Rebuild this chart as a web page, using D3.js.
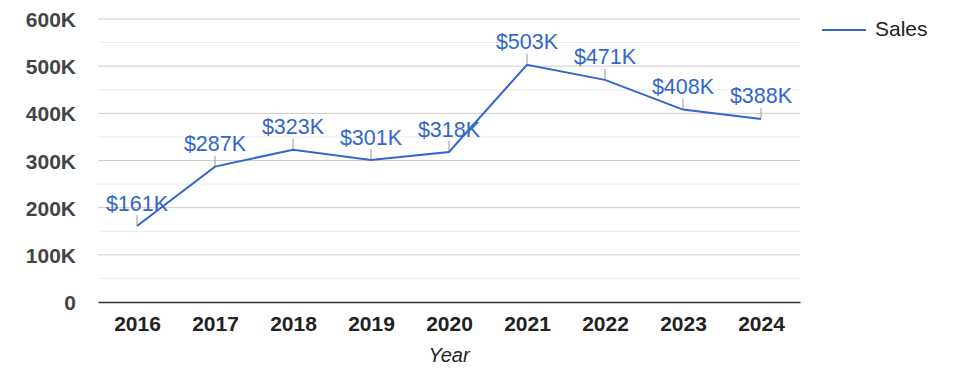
<!DOCTYPE html>
<html><head><meta charset="utf-8">
<script src="https://cdn.jsdelivr.net/npm/d3@7"></script>
<style>body{margin:0;background:#fff}svg{display:block;font-family:Arial,"Liberation Sans",sans-serif}</style>
</head><body><svg id="c" width="975" height="378"></svg>
<script>
const years = ["2016","2017","2018","2019","2020","2021","2022","2023","2024"];
const sales = [161000,287000,323000,301000,318000,503000,471000,408000,388000];
const yTicks = [0,100000,200000,300000,400000,500000,600000];
const yMinor = [50000,150000,250000,350000,450000,550000];
const seriesName = "Sales";
const xTitle = "Year";

const svg = d3.select("#c");
const L = 98, R = 800, T = 19, B = 302;
const x = d3.scalePoint().domain(years).range([L, R]).padding(0.5);
const y = d3.scaleLinear().domain([0, 600000]).range([B, T]);
const blue = "#3366cc";
const FF = "Arial,'Liberation Sans',sans-serif";
const fmtY = v => v === 0 ? "0" : (v/1000) + "K";

svg.append("g").selectAll("line").data(yMinor).join("line")
  .attr("x1", L).attr("x2", R).attr("y1", d => y(d)).attr("y2", d => y(d))
  .attr("stroke", "#ebebeb").attr("stroke-width", 1);
svg.append("g").selectAll("line").data(yTicks.filter(d => d > 0)).join("line")
  .attr("x1", L).attr("x2", R).attr("y1", d => y(d)).attr("y2", d => y(d))
  .attr("stroke", "#cccccc").attr("stroke-width", 1);

const yAxis = svg.append("g").attr("transform", `translate(${L},0)`)
  .call(d3.axisLeft(y).tickValues(yTicks).tickFormat(fmtY).tickSize(0).tickPadding(22));
yAxis.select(".domain").remove();
yAxis.selectAll("text").attr("font-size", 21).attr("font-weight", "bold").attr("fill", "#444").attr("font-family", FF).attr("dy", "0.36em");

const xAxis = svg.append("g").attr("transform", `translate(0,${B})`)
  .call(d3.axisBottom(x).tickSize(0).tickPadding(0));
xAxis.select(".domain").attr("stroke", "#333").attr("stroke-width", 1.5);
xAxis.selectAll("text").attr("font-size", 21).attr("font-weight", "bold").attr("fill", "#222").attr("font-family", FF)
  .attr("y", 29).attr("dy", 0);

svg.append("text").attr("x", (L+R)/2).attr("y", 362).attr("text-anchor", "middle")
  .attr("font-size", 20).attr("font-style", "italic").attr("fill", "#222").text(xTitle);

const data = years.map((yr, i) => ({yr, v: sales[i]}));

svg.append("g").selectAll("line").data(data).join("line")
  .attr("x1", d => x(d.yr)).attr("x2", d => x(d.yr))
  .attr("y1", d => y(d.v)).attr("y2", d => y(d.v) - 11)
  .attr("stroke", "#999").attr("stroke-width", 1);

svg.append("path").datum(data)
  .attr("d", d3.line().x(d => x(d.yr)).y(d => y(d.v)))
  .attr("fill", "none").attr("stroke", blue).attr("stroke-width", 2);

svg.append("g").selectAll("text").data(data).join("text")
  .attr("x", d => x(d.yr)).attr("y", d => y(d.v) - 15.5)
  .attr("text-anchor", "middle").attr("font-size", 21.5).attr("fill", blue)
  .text(d => "$" + Math.round(d.v/1000) + "K");

svg.append("line").attr("x1", 822).attr("x2", 866).attr("y1", 30).attr("y2", 30)
  .attr("stroke", blue).attr("stroke-width", 2);
svg.append("text").attr("x", 875).attr("y", 36).attr("font-size", 21).attr("fill", "#222").text(seriesName);
</script></body></html>
